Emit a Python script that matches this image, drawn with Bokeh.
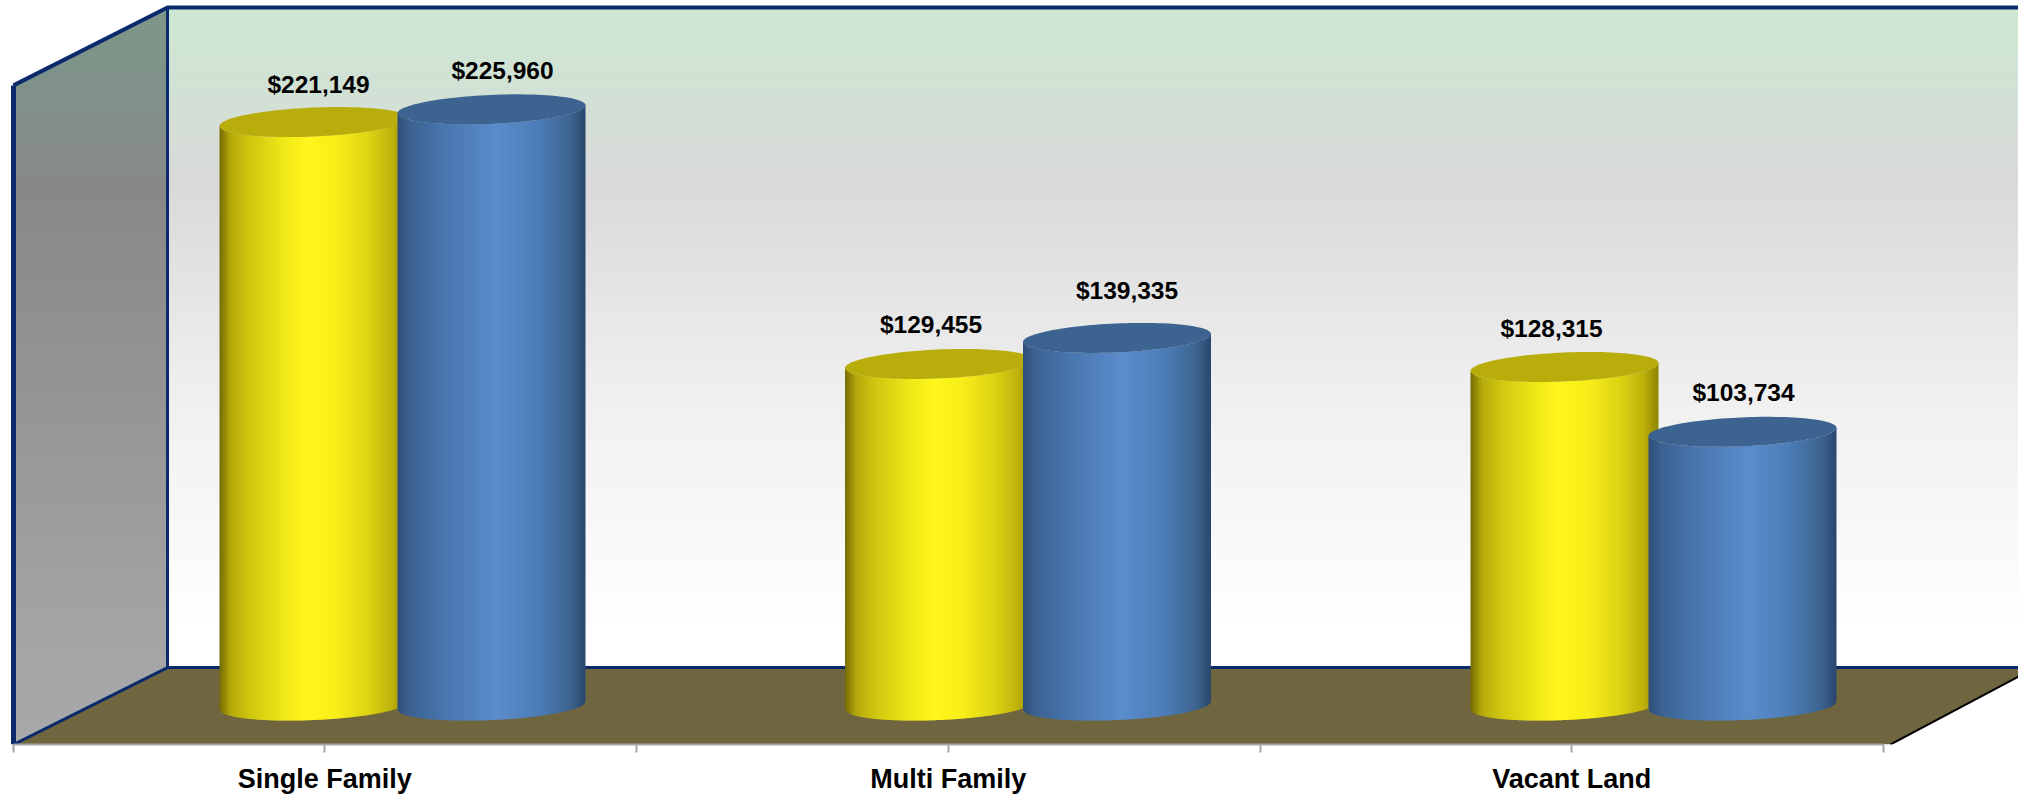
import numpy as np
from bokeh.core.properties import value
from bokeh.embed import file_html
from bokeh.models import FixedTicker, Range1d
from bokeh.plotting import figure
from bokeh.resources import INLINE

categories = ["Single Family", "Multi Family", "Vacant Land"]
series_a = [221149, 129455, 128315]
series_b = [225960, 139335, 103734]

# Hand placement of the value labels, in pixels from the cylinder's top centre
label_dx_a = [5, -8, -13]
label_dx_b = [11, 10, 1]
label_dy_a = [38, 40, 39]
label_dy_b = [39, 47, 39]

W, H, AXIS_H = 2018, 796, 51
PX_PER_USD = 597 / 225960
BASE = 706  # vertical pixel of the zero level (centre of the cylinder bases)


def usd(py):
    """Pixel row to dollars on the value scale."""
    return (BASE - py) / PX_PER_USD


def hex_rgb(c):
    return np.array([int(c[i:i + 2], 16) for i in (1, 3, 5)], float)


def ramp(t, stops):
    pos = [s[0] for s in stops]
    cols = np.array([hex_rgb(s[1]) for s in stops])
    return "#%02x%02x%02x" % tuple(int(round(np.interp(t, pos, cols[:, i]))) for i in range(3))


p = figure(width=W, height=H, output_backend="svg", toolbar_location=None,
           x_range=Range1d(0, W), y_range=Range1d(usd(H - AXIS_H), usd(0)),
           min_border=0, min_border_bottom=AXIS_H, y_axis_location=None)
p.grid.visible = False
p.outline_line_color = None
p.background_fill_color = "white"
p.border_fill_color = "white"

# Back wall: horizontal bands of a vertical gradient
WX0, WX1 = 13, 167
WY_TOP, WY_BOT = 7, 668
FRONT_TOP, FRONT_BOT = 85, 745
wall_stops = [(7, "#cee8d4"), (90, "#d2e1d5"), (180, "#d9d9d9"), (400, "#f0f0f0"), (630, "#ffffff"), (668, "#ffffff")]
rows = np.arange(WY_TOP, WY_BOT, 3)
p.quad(left=167, right=W, top=[usd(r) for r in rows], bottom=[usd(min(r + 4, WY_BOT)) for r in rows],
       fill_color=[ramp(r, wall_stops) for r in rows], line_color=None)

# Side wall: trapezoid bands clipped to the parallelogram, each overlapping the next
side_stops = [(7, "#7d9688"), (90, "#80918a"), (190, "#888888"), (400, "#959595"), (668, "#a6a6a8"), (745, "#a8a8aa")]
breaks = sorted(set(list(range(WY_TOP, FRONT_BOT, 4)) + [FRONT_TOP, WY_BOT, FRONT_BOT]))


def left_edge(y):
    return WX0 + (FRONT_TOP - y) / (FRONT_TOP - WY_TOP) * (WX1 - WX0) if y < FRONT_TOP else WX0


def right_edge(y):
    return WX1 - (y - WY_BOT) / (FRONT_BOT - WY_BOT) * (WX1 - WX0) if y > WY_BOT else WX1


sx, sy, sc = [], [], []
for y0, y1 in zip(breaks[:-1], breaks[1:]):
    y2 = min(y1 + 1, FRONT_BOT)
    sx.append([left_edge(y0), right_edge(y0), right_edge(y2), left_edge(y2)])
    sy.append([usd(y0), usd(y0), usd(y2), usd(y2)])
    sc.append(ramp((y0 + y1) / 2, side_stops))
p.patches(sx, sy, fill_color=sc, line_color=None)

# Floor
FLOOR_R = (1890, 677)
p.patch([WX0, WX1, W, W, FLOOR_R[0]], [usd(FRONT_BOT), usd(WY_BOT), usd(WY_BOT), usd(FLOOR_R[1]), usd(FRONT_BOT)],
        fill_color="#6f6640", line_color=None)

# Frame edges, heaviest on the outer side
NAVY = "#0b2a6c"
p.line([WX0, WX0], [usd(FRONT_BOT), usd(FRONT_TOP)], line_color=NAVY, line_width=5)
p.line([WX0, WX1, W], [usd(FRONT_TOP), usd(WY_TOP), usd(WY_TOP)], line_color=NAVY, line_width=4)
p.multi_line([[WX1, WX1, W], [WX0, WX1]],
             [[usd(WY_TOP), usd(WY_BOT), usd(WY_BOT)], [usd(FRONT_BOT), usd(WY_BOT)]],
             line_color=NAVY, line_width=3)
p.line([FLOOR_R[0], W], [usd(FRONT_BOT), usd(FLOOR_R[1])], line_color="black", line_width=2)

# Cylinders
RADIUS, RIM_B, RIM_TILT = 94, 14.5, 4
yellow_stops = [(0, "#766c00"), (.02, "#8a8006"), (.06, "#b5a90c"), (.16, "#cfc610"), (.36, "#f2ea18"), (.47, "#fff61c"),
                (.62, "#f8ee18"), (.8, "#dcd212"), (.92, "#bdb10c"), (1, "#8d8500")]
blue_stops = [(0, "#2f4d78"), (.06, "#3b6190"), (.25, "#4876ae"), (.53, "#5b8ccb"), (.75, "#4c7db8"), (.92, "#3d648f"),
              (1, "#2a466c")]


def rim(dx, sign):
    """Pixel offset of the tilted rim from its centre; sign=+1 gives the front edge."""
    u = np.clip(dx / RADIUS, -1, 1)
    return -RIM_TILT * u + sign * RIM_B * np.sqrt(1 - u * u)


def cylinder(cx, val, stops, cap):
    edges = np.arange(-RADIUS, RADIUS, 2.0)
    xs, ys, cs = [], [], []
    for e in edges:
        xa, xb = e, min(e + 3, RADIUS)
        xs.append([cx + xa, cx + xb, cx + xb, cx + xa])
        ys.append([val - rim(xa, 1) / PX_PER_USD, val - rim(xb, 1) / PX_PER_USD,
                   -rim(xb, 1) / PX_PER_USD, -rim(xa, 1) / PX_PER_USD])
        cs.append(ramp((e + 1 + RADIUS) / (2 * RADIUS), stops))
    p.patches(xs, ys, fill_color=cs, line_color=None)
    theta = np.linspace(0, 2 * np.pi, 120)
    dx = RADIUS * np.cos(theta)
    p.patch(cx + dx, val - (-RIM_TILT * np.cos(theta) + RIM_B * np.sin(theta)) / PX_PER_USD,
            fill_color=cap, line_color=None)


GROUP_X0, GROUP_STEP, PAIR_GAP = 402, 625.5, 178
label_x, label_y, label_t = [], [], []
for i in range(len(categories)):
    c = GROUP_X0 + GROUP_STEP * i
    cylinder(c - PAIR_GAP / 2, series_a[i], yellow_stops, "#b9ad0b")
    cylinder(c + PAIR_GAP / 2, series_b[i], blue_stops, "#3d6391")
    label_x += [c - PAIR_GAP / 2 + label_dx_a[i], c + PAIR_GAP / 2 + label_dx_b[i]]
    label_y += [series_a[i] + label_dy_a[i] / PX_PER_USD, series_b[i] + label_dy_b[i] / PX_PER_USD]
    label_t += [f"${series_a[i]:,}", f"${series_b[i]:,}"]

p.text(label_x, label_y, text=label_t, text_font=value("Liberation Sans"), text_font_style="bold",
       text_font_size="24.5px", text_align="center", text_baseline="middle", text_color="black")

# Category axis with separators between and ticks under each category
ticks = [12.5 + 311.75 * k for k in range(7)]
ax = p.xaxis[0]
ax.ticker = FixedTicker(ticks=ticks)
ax.bounds = (12.5, 1883)
ax.major_label_overrides = {t: (categories[k // 2] if k % 2 else " ") for k, t in enumerate(ticks)}
ax.axis_line_color = "#a6a6a6"
ax.axis_line_width = 2
ax.major_tick_line_color = "#a6a6a6"
ax.major_tick_line_width = 2
ax.major_tick_out = 8
ax.major_tick_in = 0
ax.minor_tick_line_color = None
ax.major_label_standoff = 11
ax.major_label_text_font = "Liberation Sans"
ax.major_label_text_font_style = "bold"
ax.major_label_text_font_size = "27px"
ax.major_label_text_color = "black"

open("out.html", "w").write(file_html(p, INLINE))
